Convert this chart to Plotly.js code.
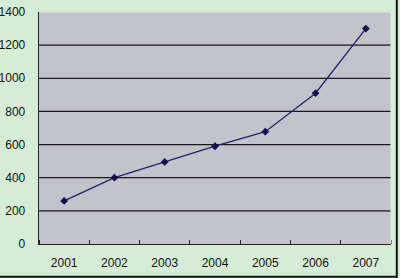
<!DOCTYPE html>
<html><head><meta charset="utf-8">
<script src="https://cdn.plot.ly/plotly-3.0.1.min.js"></script>
<style>html,body{margin:0;padding:0;background:#d6ecd6;}</style>
</head><body>
<div id="chart" style="width:400px;height:278px;"></div>
<script>
const years = [2001, 2002, 2003, 2004, 2005, 2006, 2007];
const values = [260, 400, 495, 590, 678, 910, 1300];
const yTicks = [0, 200, 400, 600, 800, 1000, 1200, 1400];
const boundaries = [2000.5, 2001.5, 2002.5, 2003.5, 2004.5, 2005.5, 2006.5, 2007.5];

const trace = {
  x: years, y: values, type: 'scatter', mode: 'lines+markers',
  line: {color: '#22226e', width: 1.3},
  marker: {symbol: 'diamond', size: 6, color: '#10104a'},
  hoverinfo: 'skip'
};
const gridShapes = yTicks.filter(v => v > 0 && v < 1400).map(v => ({
  type: 'line', xref: 'paper', yref: 'y', x0: 0, x1: 1, y0: v, y1: v,
  line: {color: '#1a1a1a', width: 1.2}, layer: 'below'
}));
const layout = {
  width: 400, height: 278,
  margin: {l: 39, r: 9, t: 12, b: 34},
  paper_bgcolor: '#d6ecd6', plot_bgcolor: '#c3c3cb',
  showlegend: false,
  font: {family: 'Liberation Sans, Arial, sans-serif', size: 12, color: '#111'},
  xaxis: {
    range: [2000.5, 2007.5], tickvals: years, ticktext: years.map(String),
    ticks: '', showgrid: false, zeroline: false,
    showline: true, linecolor: '#222', linewidth: 1.3, mirror: false,
    tickfont: {size: 12, color: '#111'}, ticklabelstandoff: 7,
    minor: {tickvals: boundaries, ticks: 'inside', ticklen: 4, tickcolor: '#222', showgrid: false}
  },
  yaxis: {
    range: [0, 1400], tickvals: yTicks, ticks: '',
    showgrid: false, zeroline: false, showline: true, linecolor: '#222', linewidth: 1.3,
    tickfont: {size: 12, color: '#111'}, ticklabelstandoff: 10
  },
  shapes: gridShapes.concat([
    {type: 'line', xref: 'paper', yref: 'paper', x0: 0, x1: 1, y0: 1, y1: 1, line: {color: '#e4e4e8', width: 1}},
    {type: 'line', xref: 'paper', yref: 'paper', x0: 1.0, x1: 1.0, y0: 0, y1: 1, line: {color: '#e4e4e8', width: 1}},
    {type: 'line', xref: 'paper', yref: 'paper', x0: 1.0165, x1: 1.0165, y0: -0.15, y1: 1.06, line: {color: '#111', width: 2}},
    {type: 'line', xref: 'paper', yref: 'paper', x0: -0.12, x1: 1.0165, y0: -0.1415, y1: -0.1415, line: {color: '#111', width: 2}}
  ])
};
Plotly.newPlot('chart', [trace], layout, {staticPlot: true, displayModeBar: false});
</script>
</body></html>
